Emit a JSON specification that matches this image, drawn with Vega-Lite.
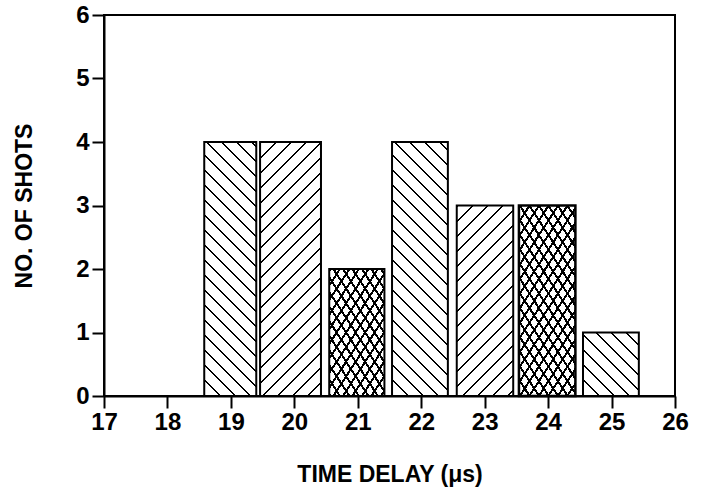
{
"$schema":"https://vega.github.io/schema/vega-lite/v6.json",
"width":571,"height":381,
"autosize":{"type":"none"},
"padding":{"left":104,"top":15,"right":30,"bottom":91},
"background":"white",
"config":{"view":{"stroke":"black","strokeWidth":2}},
"data":{"values":[
{"time":19,"start":18.58,"end":19.40,"shots":4},
{"time":20,"start":19.46,"end":20.42,"shots":4},
{"time":21,"start":20.55,"end":21.42,"shots":2},
{"time":22,"start":21.54,"end":22.42,"shots":4},
{"time":23,"start":22.56,"end":23.45,"shots":3},
{"time":24,"start":23.54,"end":24.43,"shots":3},
{"time":25,"start":24.55,"end":25.43,"shots":1}
]},
"encoding":{
"x":{"field":"start","type":"quantitative","scale":{"domain":[17,26],"nice":false},
"axis":{"title":"TIME DELAY (μs)","values":[17,18,19,20,21,22,23,24,25,26],"format":"d","grid":false,"domainColor":"black","domainWidth":2,"tickColor":"black","tickWidth":2,"tickSize":12,"labelFont":"Liberation Sans","labelFontSize":24,"labelFontWeight":"bold","labelColor":"black","labelPadding":2,"labelFlush":false,"labelOverlap":false,"titleFont":"Liberation Sans","titleFontSize":23,"titleFontWeight":"bold","titleColor":"black","titlePadding":29}},
"x2":{"field":"end"},
"y":{"field":"shots","type":"quantitative","scale":{"domain":[0,6],"nice":false},
"axis":{"title":"NO. OF SHOTS","values":[0,1,2,3,4,5,6],"format":"d","grid":false,"domainColor":"black","domainWidth":2,"tickColor":"black","tickWidth":2,"tickSize":12,"labelFont":"Liberation Sans","labelFontSize":24,"labelFontWeight":"bold","labelColor":"black","labelPadding":3,"labelFlush":false,"labelOverlap":false,"titleFont":"Liberation Sans","titleFontSize":23,"titleFontWeight":"bold","titleColor":"black","titlePadding":39}},
"y2":{"datum":0}
},
"layer":[
{"transform":[{"filter":"datum.time == 19"}],
"mark":{"type":"bar","stroke":"black","strokeWidth":2,"fill":{"gradient":"linear","x1":0,"y1":1,"x2":0.2437,"y2":-0.1903,"stops":[
{"offset":0,"color":"#fff"},{"offset":0,"color":"#000"},{"offset":0.0086,"color":"#000"},{"offset":0.0086,"color":"#fff"},
{"offset":0.0476,"color":"#fff"},{"offset":0.0476,"color":"#000"},{"offset":0.0562,"color":"#000"},{"offset":0.0562,"color":"#fff"},
{"offset":0.0952,"color":"#fff"},{"offset":0.0952,"color":"#000"},{"offset":0.1038,"color":"#000"},{"offset":0.1038,"color":"#fff"},
{"offset":0.1429,"color":"#fff"},{"offset":0.1429,"color":"#000"},{"offset":0.1514,"color":"#000"},{"offset":0.1514,"color":"#fff"},
{"offset":0.1905,"color":"#fff"},{"offset":0.1905,"color":"#000"},{"offset":0.199,"color":"#000"},{"offset":0.199,"color":"#fff"},
{"offset":0.2381,"color":"#fff"},{"offset":0.2381,"color":"#000"},{"offset":0.2467,"color":"#000"},{"offset":0.2467,"color":"#fff"},
{"offset":0.2857,"color":"#fff"},{"offset":0.2857,"color":"#000"},{"offset":0.2943,"color":"#000"},{"offset":0.2943,"color":"#fff"},
{"offset":0.3333,"color":"#fff"},{"offset":0.3333,"color":"#000"},{"offset":0.3419,"color":"#000"},{"offset":0.3419,"color":"#fff"},
{"offset":0.381,"color":"#fff"},{"offset":0.381,"color":"#000"},{"offset":0.3895,"color":"#000"},{"offset":0.3895,"color":"#fff"},
{"offset":0.4286,"color":"#fff"},{"offset":0.4286,"color":"#000"},{"offset":0.4371,"color":"#000"},{"offset":0.4371,"color":"#fff"},
{"offset":0.4762,"color":"#fff"},{"offset":0.4762,"color":"#000"},{"offset":0.4848,"color":"#000"},{"offset":0.4848,"color":"#fff"},
{"offset":0.5238,"color":"#fff"},{"offset":0.5238,"color":"#000"},{"offset":0.5324,"color":"#000"},{"offset":0.5324,"color":"#fff"},
{"offset":0.5714,"color":"#fff"},{"offset":0.5714,"color":"#000"},{"offset":0.58,"color":"#000"},{"offset":0.58,"color":"#fff"},
{"offset":0.619,"color":"#fff"},{"offset":0.619,"color":"#000"},{"offset":0.6276,"color":"#000"},{"offset":0.6276,"color":"#fff"},
{"offset":0.6667,"color":"#fff"},{"offset":0.6667,"color":"#000"},{"offset":0.6752,"color":"#000"},{"offset":0.6752,"color":"#fff"},
{"offset":0.7143,"color":"#fff"},{"offset":0.7143,"color":"#000"},{"offset":0.7229,"color":"#000"},{"offset":0.7229,"color":"#fff"},
{"offset":0.7619,"color":"#fff"},{"offset":0.7619,"color":"#000"},{"offset":0.7705,"color":"#000"},{"offset":0.7705,"color":"#fff"},
{"offset":0.8095,"color":"#fff"},{"offset":0.8095,"color":"#000"},{"offset":0.8181,"color":"#000"},{"offset":0.8181,"color":"#fff"},
{"offset":0.8571,"color":"#fff"},{"offset":0.8571,"color":"#000"},{"offset":0.8657,"color":"#000"},{"offset":0.8657,"color":"#fff"},
{"offset":0.9048,"color":"#fff"},{"offset":0.9048,"color":"#000"},{"offset":0.9133,"color":"#000"},{"offset":0.9133,"color":"#fff"},
{"offset":0.9524,"color":"#fff"},{"offset":0.9524,"color":"#000"},{"offset":0.961,"color":"#000"},{"offset":0.961,"color":"#fff"},
{"offset":1,"color":"#fff"}]}}},
{"transform":[{"filter":"datum.time == 20"}],
"mark":{"type":"bar","stroke":"black","strokeWidth":2,"fill":{"gradient":"linear","x1":0,"y1":0,"x2":0.2812,"y2":1.1727,"stops":[
{"offset":0,"color":"#fff"},{"offset":0,"color":"#000"},{"offset":0.0086,"color":"#000"},{"offset":0.0086,"color":"#fff"},
{"offset":0.0476,"color":"#fff"},{"offset":0.0476,"color":"#000"},{"offset":0.0562,"color":"#000"},{"offset":0.0562,"color":"#fff"},
{"offset":0.0952,"color":"#fff"},{"offset":0.0952,"color":"#000"},{"offset":0.1038,"color":"#000"},{"offset":0.1038,"color":"#fff"},
{"offset":0.1429,"color":"#fff"},{"offset":0.1429,"color":"#000"},{"offset":0.1514,"color":"#000"},{"offset":0.1514,"color":"#fff"},
{"offset":0.1905,"color":"#fff"},{"offset":0.1905,"color":"#000"},{"offset":0.199,"color":"#000"},{"offset":0.199,"color":"#fff"},
{"offset":0.2381,"color":"#fff"},{"offset":0.2381,"color":"#000"},{"offset":0.2467,"color":"#000"},{"offset":0.2467,"color":"#fff"},
{"offset":0.2857,"color":"#fff"},{"offset":0.2857,"color":"#000"},{"offset":0.2943,"color":"#000"},{"offset":0.2943,"color":"#fff"},
{"offset":0.3333,"color":"#fff"},{"offset":0.3333,"color":"#000"},{"offset":0.3419,"color":"#000"},{"offset":0.3419,"color":"#fff"},
{"offset":0.381,"color":"#fff"},{"offset":0.381,"color":"#000"},{"offset":0.3895,"color":"#000"},{"offset":0.3895,"color":"#fff"},
{"offset":0.4286,"color":"#fff"},{"offset":0.4286,"color":"#000"},{"offset":0.4371,"color":"#000"},{"offset":0.4371,"color":"#fff"},
{"offset":0.4762,"color":"#fff"},{"offset":0.4762,"color":"#000"},{"offset":0.4848,"color":"#000"},{"offset":0.4848,"color":"#fff"},
{"offset":0.5238,"color":"#fff"},{"offset":0.5238,"color":"#000"},{"offset":0.5324,"color":"#000"},{"offset":0.5324,"color":"#fff"},
{"offset":0.5714,"color":"#fff"},{"offset":0.5714,"color":"#000"},{"offset":0.58,"color":"#000"},{"offset":0.58,"color":"#fff"},
{"offset":0.619,"color":"#fff"},{"offset":0.619,"color":"#000"},{"offset":0.6276,"color":"#000"},{"offset":0.6276,"color":"#fff"},
{"offset":0.6667,"color":"#fff"},{"offset":0.6667,"color":"#000"},{"offset":0.6752,"color":"#000"},{"offset":0.6752,"color":"#fff"},
{"offset":0.7143,"color":"#fff"},{"offset":0.7143,"color":"#000"},{"offset":0.7229,"color":"#000"},{"offset":0.7229,"color":"#fff"},
{"offset":0.7619,"color":"#fff"},{"offset":0.7619,"color":"#000"},{"offset":0.7705,"color":"#000"},{"offset":0.7705,"color":"#fff"},
{"offset":0.8095,"color":"#fff"},{"offset":0.8095,"color":"#000"},{"offset":0.8181,"color":"#000"},{"offset":0.8181,"color":"#fff"},
{"offset":0.8571,"color":"#fff"},{"offset":0.8571,"color":"#000"},{"offset":0.8657,"color":"#000"},{"offset":0.8657,"color":"#fff"},
{"offset":0.9048,"color":"#fff"},{"offset":0.9048,"color":"#000"},{"offset":0.9133,"color":"#000"},{"offset":0.9133,"color":"#fff"},
{"offset":0.9524,"color":"#fff"},{"offset":0.9524,"color":"#000"},{"offset":0.961,"color":"#000"},{"offset":0.961,"color":"#fff"},
{"offset":1,"color":"#fff"}]}}},
{"transform":[{"filter":"datum.time == 21"}],
"mark":{"type":"bar","stroke":"black","strokeWidth":2,"fill":{"gradient":"linear","x1":0,"y1":1,"x2":0.7976,"y2":-0.1928,"stops":[
{"offset":0,"color":"#fff"},{"offset":0,"color":"#000"},{"offset":0.0167,"color":"#000"},{"offset":0.0167,"color":"#fff"},
{"offset":0.0667,"color":"#fff"},{"offset":0.0667,"color":"#000"},{"offset":0.0833,"color":"#000"},{"offset":0.0833,"color":"#fff"},
{"offset":0.1333,"color":"#fff"},{"offset":0.1333,"color":"#000"},{"offset":0.15,"color":"#000"},{"offset":0.15,"color":"#fff"},
{"offset":0.2,"color":"#fff"},{"offset":0.2,"color":"#000"},{"offset":0.2167,"color":"#000"},{"offset":0.2167,"color":"#fff"},
{"offset":0.2667,"color":"#fff"},{"offset":0.2667,"color":"#000"},{"offset":0.2833,"color":"#000"},{"offset":0.2833,"color":"#fff"},
{"offset":0.3333,"color":"#fff"},{"offset":0.3333,"color":"#000"},{"offset":0.35,"color":"#000"},{"offset":0.35,"color":"#fff"},
{"offset":0.4,"color":"#fff"},{"offset":0.4,"color":"#000"},{"offset":0.4167,"color":"#000"},{"offset":0.4167,"color":"#fff"},
{"offset":0.4667,"color":"#fff"},{"offset":0.4667,"color":"#000"},{"offset":0.4833,"color":"#000"},{"offset":0.4833,"color":"#fff"},
{"offset":0.5333,"color":"#fff"},{"offset":0.5333,"color":"#000"},{"offset":0.55,"color":"#000"},{"offset":0.55,"color":"#fff"},
{"offset":0.6,"color":"#fff"},{"offset":0.6,"color":"#000"},{"offset":0.6167,"color":"#000"},{"offset":0.6167,"color":"#fff"},
{"offset":0.6667,"color":"#fff"},{"offset":0.6667,"color":"#000"},{"offset":0.6833,"color":"#000"},{"offset":0.6833,"color":"#fff"},
{"offset":0.7333,"color":"#fff"},{"offset":0.7333,"color":"#000"},{"offset":0.75,"color":"#000"},{"offset":0.75,"color":"#fff"},
{"offset":0.8,"color":"#fff"},{"offset":0.8,"color":"#000"},{"offset":0.8167,"color":"#000"},{"offset":0.8167,"color":"#fff"},
{"offset":0.8667,"color":"#fff"},{"offset":0.8667,"color":"#000"},{"offset":0.8833,"color":"#000"},{"offset":0.8833,"color":"#fff"},
{"offset":0.9333,"color":"#fff"},{"offset":0.9333,"color":"#000"},{"offset":0.95,"color":"#000"},{"offset":0.95,"color":"#fff"},
{"offset":1,"color":"#fff"}]}}},
{"transform":[{"filter":"datum.time == 21"}],
"mark":{"type":"bar","strokeWidth":0,"fill":{"gradient":"linear","x1":0,"y1":0,"x2":0.7976,"y2":1.1928,"stops":[
{"offset":0,"color":"rgba(0,0,0,0)"},{"offset":0,"color":"#000"},{"offset":0.0167,"color":"#000"},{"offset":0.0167,"color":"rgba(0,0,0,0)"},
{"offset":0.0667,"color":"rgba(0,0,0,0)"},{"offset":0.0667,"color":"#000"},{"offset":0.0833,"color":"#000"},{"offset":0.0833,"color":"rgba(0,0,0,0)"},
{"offset":0.1333,"color":"rgba(0,0,0,0)"},{"offset":0.1333,"color":"#000"},{"offset":0.15,"color":"#000"},{"offset":0.15,"color":"rgba(0,0,0,0)"},
{"offset":0.2,"color":"rgba(0,0,0,0)"},{"offset":0.2,"color":"#000"},{"offset":0.2167,"color":"#000"},{"offset":0.2167,"color":"rgba(0,0,0,0)"},
{"offset":0.2667,"color":"rgba(0,0,0,0)"},{"offset":0.2667,"color":"#000"},{"offset":0.2833,"color":"#000"},{"offset":0.2833,"color":"rgba(0,0,0,0)"},
{"offset":0.3333,"color":"rgba(0,0,0,0)"},{"offset":0.3333,"color":"#000"},{"offset":0.35,"color":"#000"},{"offset":0.35,"color":"rgba(0,0,0,0)"},
{"offset":0.4,"color":"rgba(0,0,0,0)"},{"offset":0.4,"color":"#000"},{"offset":0.4167,"color":"#000"},{"offset":0.4167,"color":"rgba(0,0,0,0)"},
{"offset":0.4667,"color":"rgba(0,0,0,0)"},{"offset":0.4667,"color":"#000"},{"offset":0.4833,"color":"#000"},{"offset":0.4833,"color":"rgba(0,0,0,0)"},
{"offset":0.5333,"color":"rgba(0,0,0,0)"},{"offset":0.5333,"color":"#000"},{"offset":0.55,"color":"#000"},{"offset":0.55,"color":"rgba(0,0,0,0)"},
{"offset":0.6,"color":"rgba(0,0,0,0)"},{"offset":0.6,"color":"#000"},{"offset":0.6167,"color":"#000"},{"offset":0.6167,"color":"rgba(0,0,0,0)"},
{"offset":0.6667,"color":"rgba(0,0,0,0)"},{"offset":0.6667,"color":"#000"},{"offset":0.6833,"color":"#000"},{"offset":0.6833,"color":"rgba(0,0,0,0)"},
{"offset":0.7333,"color":"rgba(0,0,0,0)"},{"offset":0.7333,"color":"#000"},{"offset":0.75,"color":"#000"},{"offset":0.75,"color":"rgba(0,0,0,0)"},
{"offset":0.8,"color":"rgba(0,0,0,0)"},{"offset":0.8,"color":"#000"},{"offset":0.8167,"color":"#000"},{"offset":0.8167,"color":"rgba(0,0,0,0)"},
{"offset":0.8667,"color":"rgba(0,0,0,0)"},{"offset":0.8667,"color":"#000"},{"offset":0.8833,"color":"#000"},{"offset":0.8833,"color":"rgba(0,0,0,0)"},
{"offset":0.9333,"color":"rgba(0,0,0,0)"},{"offset":0.9333,"color":"#000"},{"offset":0.95,"color":"#000"},{"offset":0.95,"color":"rgba(0,0,0,0)"},
{"offset":1,"color":"rgba(0,0,0,0)"}]}}},
{"transform":[{"filter":"datum.time == 22"}],
"mark":{"type":"bar","stroke":"black","strokeWidth":2,"fill":{"gradient":"linear","x1":0,"y1":1,"x2":0.26,"y2":-0.183,"stops":[
{"offset":0,"color":"#fff"},{"offset":0,"color":"#000"},{"offset":0.0086,"color":"#000"},{"offset":0.0086,"color":"#fff"},
{"offset":0.0476,"color":"#fff"},{"offset":0.0476,"color":"#000"},{"offset":0.0562,"color":"#000"},{"offset":0.0562,"color":"#fff"},
{"offset":0.0952,"color":"#fff"},{"offset":0.0952,"color":"#000"},{"offset":0.1038,"color":"#000"},{"offset":0.1038,"color":"#fff"},
{"offset":0.1429,"color":"#fff"},{"offset":0.1429,"color":"#000"},{"offset":0.1514,"color":"#000"},{"offset":0.1514,"color":"#fff"},
{"offset":0.1905,"color":"#fff"},{"offset":0.1905,"color":"#000"},{"offset":0.199,"color":"#000"},{"offset":0.199,"color":"#fff"},
{"offset":0.2381,"color":"#fff"},{"offset":0.2381,"color":"#000"},{"offset":0.2467,"color":"#000"},{"offset":0.2467,"color":"#fff"},
{"offset":0.2857,"color":"#fff"},{"offset":0.2857,"color":"#000"},{"offset":0.2943,"color":"#000"},{"offset":0.2943,"color":"#fff"},
{"offset":0.3333,"color":"#fff"},{"offset":0.3333,"color":"#000"},{"offset":0.3419,"color":"#000"},{"offset":0.3419,"color":"#fff"},
{"offset":0.381,"color":"#fff"},{"offset":0.381,"color":"#000"},{"offset":0.3895,"color":"#000"},{"offset":0.3895,"color":"#fff"},
{"offset":0.4286,"color":"#fff"},{"offset":0.4286,"color":"#000"},{"offset":0.4371,"color":"#000"},{"offset":0.4371,"color":"#fff"},
{"offset":0.4762,"color":"#fff"},{"offset":0.4762,"color":"#000"},{"offset":0.4848,"color":"#000"},{"offset":0.4848,"color":"#fff"},
{"offset":0.5238,"color":"#fff"},{"offset":0.5238,"color":"#000"},{"offset":0.5324,"color":"#000"},{"offset":0.5324,"color":"#fff"},
{"offset":0.5714,"color":"#fff"},{"offset":0.5714,"color":"#000"},{"offset":0.58,"color":"#000"},{"offset":0.58,"color":"#fff"},
{"offset":0.619,"color":"#fff"},{"offset":0.619,"color":"#000"},{"offset":0.6276,"color":"#000"},{"offset":0.6276,"color":"#fff"},
{"offset":0.6667,"color":"#fff"},{"offset":0.6667,"color":"#000"},{"offset":0.6752,"color":"#000"},{"offset":0.6752,"color":"#fff"},
{"offset":0.7143,"color":"#fff"},{"offset":0.7143,"color":"#000"},{"offset":0.7229,"color":"#000"},{"offset":0.7229,"color":"#fff"},
{"offset":0.7619,"color":"#fff"},{"offset":0.7619,"color":"#000"},{"offset":0.7705,"color":"#000"},{"offset":0.7705,"color":"#fff"},
{"offset":0.8095,"color":"#fff"},{"offset":0.8095,"color":"#000"},{"offset":0.8181,"color":"#000"},{"offset":0.8181,"color":"#fff"},
{"offset":0.8571,"color":"#fff"},{"offset":0.8571,"color":"#000"},{"offset":0.8657,"color":"#000"},{"offset":0.8657,"color":"#fff"},
{"offset":0.9048,"color":"#fff"},{"offset":0.9048,"color":"#000"},{"offset":0.9133,"color":"#000"},{"offset":0.9133,"color":"#fff"},
{"offset":0.9524,"color":"#fff"},{"offset":0.9524,"color":"#000"},{"offset":0.961,"color":"#000"},{"offset":0.961,"color":"#fff"},
{"offset":1,"color":"#fff"}]}}},
{"transform":[{"filter":"datum.time == 23"}],
"mark":{"type":"bar","stroke":"black","strokeWidth":2,"fill":{"gradient":"linear","x1":0,"y1":0,"x2":0.3648,"y2":1.2305,"stops":[
{"offset":0,"color":"#fff"},{"offset":0,"color":"#000"},{"offset":0.0106,"color":"#000"},{"offset":0.0106,"color":"#fff"},
{"offset":0.0588,"color":"#fff"},{"offset":0.0588,"color":"#000"},{"offset":0.0694,"color":"#000"},{"offset":0.0694,"color":"#fff"},
{"offset":0.1176,"color":"#fff"},{"offset":0.1176,"color":"#000"},{"offset":0.1282,"color":"#000"},{"offset":0.1282,"color":"#fff"},
{"offset":0.1765,"color":"#fff"},{"offset":0.1765,"color":"#000"},{"offset":0.1871,"color":"#000"},{"offset":0.1871,"color":"#fff"},
{"offset":0.2353,"color":"#fff"},{"offset":0.2353,"color":"#000"},{"offset":0.2459,"color":"#000"},{"offset":0.2459,"color":"#fff"},
{"offset":0.2941,"color":"#fff"},{"offset":0.2941,"color":"#000"},{"offset":0.3047,"color":"#000"},{"offset":0.3047,"color":"#fff"},
{"offset":0.3529,"color":"#fff"},{"offset":0.3529,"color":"#000"},{"offset":0.3635,"color":"#000"},{"offset":0.3635,"color":"#fff"},
{"offset":0.4118,"color":"#fff"},{"offset":0.4118,"color":"#000"},{"offset":0.4224,"color":"#000"},{"offset":0.4224,"color":"#fff"},
{"offset":0.4706,"color":"#fff"},{"offset":0.4706,"color":"#000"},{"offset":0.4812,"color":"#000"},{"offset":0.4812,"color":"#fff"},
{"offset":0.5294,"color":"#fff"},{"offset":0.5294,"color":"#000"},{"offset":0.54,"color":"#000"},{"offset":0.54,"color":"#fff"},
{"offset":0.5882,"color":"#fff"},{"offset":0.5882,"color":"#000"},{"offset":0.5988,"color":"#000"},{"offset":0.5988,"color":"#fff"},
{"offset":0.6471,"color":"#fff"},{"offset":0.6471,"color":"#000"},{"offset":0.6576,"color":"#000"},{"offset":0.6576,"color":"#fff"},
{"offset":0.7059,"color":"#fff"},{"offset":0.7059,"color":"#000"},{"offset":0.7165,"color":"#000"},{"offset":0.7165,"color":"#fff"},
{"offset":0.7647,"color":"#fff"},{"offset":0.7647,"color":"#000"},{"offset":0.7753,"color":"#000"},{"offset":0.7753,"color":"#fff"},
{"offset":0.8235,"color":"#fff"},{"offset":0.8235,"color":"#000"},{"offset":0.8341,"color":"#000"},{"offset":0.8341,"color":"#fff"},
{"offset":0.8824,"color":"#fff"},{"offset":0.8824,"color":"#000"},{"offset":0.8929,"color":"#000"},{"offset":0.8929,"color":"#fff"},
{"offset":0.9412,"color":"#fff"},{"offset":0.9412,"color":"#000"},{"offset":0.9518,"color":"#000"},{"offset":0.9518,"color":"#fff"},
{"offset":1,"color":"#fff"}]}}},
{"transform":[{"filter":"datum.time == 24"}],
"mark":{"type":"bar","stroke":"black","strokeWidth":2.5,"fill":{"gradient":"linear","x1":0,"y1":1,"x2":0.5503,"y2":-0.2067,"stops":[
{"offset":0,"color":"#fff"},{"offset":0,"color":"#000"},{"offset":0.0132,"color":"#000"},{"offset":0.0132,"color":"#fff"},
{"offset":0.0526,"color":"#fff"},{"offset":0.0526,"color":"#000"},{"offset":0.0658,"color":"#000"},{"offset":0.0658,"color":"#fff"},
{"offset":0.1053,"color":"#fff"},{"offset":0.1053,"color":"#000"},{"offset":0.1184,"color":"#000"},{"offset":0.1184,"color":"#fff"},
{"offset":0.1579,"color":"#fff"},{"offset":0.1579,"color":"#000"},{"offset":0.1711,"color":"#000"},{"offset":0.1711,"color":"#fff"},
{"offset":0.2105,"color":"#fff"},{"offset":0.2105,"color":"#000"},{"offset":0.2237,"color":"#000"},{"offset":0.2237,"color":"#fff"},
{"offset":0.2632,"color":"#fff"},{"offset":0.2632,"color":"#000"},{"offset":0.2763,"color":"#000"},{"offset":0.2763,"color":"#fff"},
{"offset":0.3158,"color":"#fff"},{"offset":0.3158,"color":"#000"},{"offset":0.3289,"color":"#000"},{"offset":0.3289,"color":"#fff"},
{"offset":0.3684,"color":"#fff"},{"offset":0.3684,"color":"#000"},{"offset":0.3816,"color":"#000"},{"offset":0.3816,"color":"#fff"},
{"offset":0.4211,"color":"#fff"},{"offset":0.4211,"color":"#000"},{"offset":0.4342,"color":"#000"},{"offset":0.4342,"color":"#fff"},
{"offset":0.4737,"color":"#fff"},{"offset":0.4737,"color":"#000"},{"offset":0.4868,"color":"#000"},{"offset":0.4868,"color":"#fff"},
{"offset":0.5263,"color":"#fff"},{"offset":0.5263,"color":"#000"},{"offset":0.5395,"color":"#000"},{"offset":0.5395,"color":"#fff"},
{"offset":0.5789,"color":"#fff"},{"offset":0.5789,"color":"#000"},{"offset":0.5921,"color":"#000"},{"offset":0.5921,"color":"#fff"},
{"offset":0.6316,"color":"#fff"},{"offset":0.6316,"color":"#000"},{"offset":0.6447,"color":"#000"},{"offset":0.6447,"color":"#fff"},
{"offset":0.6842,"color":"#fff"},{"offset":0.6842,"color":"#000"},{"offset":0.6974,"color":"#000"},{"offset":0.6974,"color":"#fff"},
{"offset":0.7368,"color":"#fff"},{"offset":0.7368,"color":"#000"},{"offset":0.75,"color":"#000"},{"offset":0.75,"color":"#fff"},
{"offset":0.7895,"color":"#fff"},{"offset":0.7895,"color":"#000"},{"offset":0.8026,"color":"#000"},{"offset":0.8026,"color":"#fff"},
{"offset":0.8421,"color":"#fff"},{"offset":0.8421,"color":"#000"},{"offset":0.8553,"color":"#000"},{"offset":0.8553,"color":"#fff"},
{"offset":0.8947,"color":"#fff"},{"offset":0.8947,"color":"#000"},{"offset":0.9079,"color":"#000"},{"offset":0.9079,"color":"#fff"},
{"offset":0.9474,"color":"#fff"},{"offset":0.9474,"color":"#000"},{"offset":0.9605,"color":"#000"},{"offset":0.9605,"color":"#fff"},
{"offset":1,"color":"#fff"}]}}},
{"transform":[{"filter":"datum.time == 24"}],
"mark":{"type":"bar","strokeWidth":0,"fill":{"gradient":"linear","x1":0,"y1":0,"x2":0.5503,"y2":1.2067,"stops":[
{"offset":0,"color":"rgba(0,0,0,0)"},{"offset":0,"color":"#000"},{"offset":0.0132,"color":"#000"},{"offset":0.0132,"color":"rgba(0,0,0,0)"},
{"offset":0.0526,"color":"rgba(0,0,0,0)"},{"offset":0.0526,"color":"#000"},{"offset":0.0658,"color":"#000"},{"offset":0.0658,"color":"rgba(0,0,0,0)"},
{"offset":0.1053,"color":"rgba(0,0,0,0)"},{"offset":0.1053,"color":"#000"},{"offset":0.1184,"color":"#000"},{"offset":0.1184,"color":"rgba(0,0,0,0)"},
{"offset":0.1579,"color":"rgba(0,0,0,0)"},{"offset":0.1579,"color":"#000"},{"offset":0.1711,"color":"#000"},{"offset":0.1711,"color":"rgba(0,0,0,0)"},
{"offset":0.2105,"color":"rgba(0,0,0,0)"},{"offset":0.2105,"color":"#000"},{"offset":0.2237,"color":"#000"},{"offset":0.2237,"color":"rgba(0,0,0,0)"},
{"offset":0.2632,"color":"rgba(0,0,0,0)"},{"offset":0.2632,"color":"#000"},{"offset":0.2763,"color":"#000"},{"offset":0.2763,"color":"rgba(0,0,0,0)"},
{"offset":0.3158,"color":"rgba(0,0,0,0)"},{"offset":0.3158,"color":"#000"},{"offset":0.3289,"color":"#000"},{"offset":0.3289,"color":"rgba(0,0,0,0)"},
{"offset":0.3684,"color":"rgba(0,0,0,0)"},{"offset":0.3684,"color":"#000"},{"offset":0.3816,"color":"#000"},{"offset":0.3816,"color":"rgba(0,0,0,0)"},
{"offset":0.4211,"color":"rgba(0,0,0,0)"},{"offset":0.4211,"color":"#000"},{"offset":0.4342,"color":"#000"},{"offset":0.4342,"color":"rgba(0,0,0,0)"},
{"offset":0.4737,"color":"rgba(0,0,0,0)"},{"offset":0.4737,"color":"#000"},{"offset":0.4868,"color":"#000"},{"offset":0.4868,"color":"rgba(0,0,0,0)"},
{"offset":0.5263,"color":"rgba(0,0,0,0)"},{"offset":0.5263,"color":"#000"},{"offset":0.5395,"color":"#000"},{"offset":0.5395,"color":"rgba(0,0,0,0)"},
{"offset":0.5789,"color":"rgba(0,0,0,0)"},{"offset":0.5789,"color":"#000"},{"offset":0.5921,"color":"#000"},{"offset":0.5921,"color":"rgba(0,0,0,0)"},
{"offset":0.6316,"color":"rgba(0,0,0,0)"},{"offset":0.6316,"color":"#000"},{"offset":0.6447,"color":"#000"},{"offset":0.6447,"color":"rgba(0,0,0,0)"},
{"offset":0.6842,"color":"rgba(0,0,0,0)"},{"offset":0.6842,"color":"#000"},{"offset":0.6974,"color":"#000"},{"offset":0.6974,"color":"rgba(0,0,0,0)"},
{"offset":0.7368,"color":"rgba(0,0,0,0)"},{"offset":0.7368,"color":"#000"},{"offset":0.75,"color":"#000"},{"offset":0.75,"color":"rgba(0,0,0,0)"},
{"offset":0.7895,"color":"rgba(0,0,0,0)"},{"offset":0.7895,"color":"#000"},{"offset":0.8026,"color":"#000"},{"offset":0.8026,"color":"rgba(0,0,0,0)"},
{"offset":0.8421,"color":"rgba(0,0,0,0)"},{"offset":0.8421,"color":"#000"},{"offset":0.8553,"color":"#000"},{"offset":0.8553,"color":"rgba(0,0,0,0)"},
{"offset":0.8947,"color":"rgba(0,0,0,0)"},{"offset":0.8947,"color":"#000"},{"offset":0.9079,"color":"#000"},{"offset":0.9079,"color":"rgba(0,0,0,0)"},
{"offset":0.9474,"color":"rgba(0,0,0,0)"},{"offset":0.9474,"color":"#000"},{"offset":0.9605,"color":"#000"},{"offset":0.9605,"color":"rgba(0,0,0,0)"},
{"offset":1,"color":"rgba(0,0,0,0)"}]}}},
{"transform":[{"filter":"datum.time == 25"}],
"mark":{"type":"bar","stroke":"black","strokeWidth":2,"fill":{"gradient":"linear","x1":0,"y1":1,"x2":0.9371,"y2":-0.0659,"stops":[
{"offset":0,"color":"#fff"},{"offset":0,"color":"#000"},{"offset":0.0225,"color":"#000"},{"offset":0.0225,"color":"#fff"},
{"offset":0.125,"color":"#fff"},{"offset":0.125,"color":"#000"},{"offset":0.1475,"color":"#000"},{"offset":0.1475,"color":"#fff"},
{"offset":0.25,"color":"#fff"},{"offset":0.25,"color":"#000"},{"offset":0.2725,"color":"#000"},{"offset":0.2725,"color":"#fff"},
{"offset":0.375,"color":"#fff"},{"offset":0.375,"color":"#000"},{"offset":0.3975,"color":"#000"},{"offset":0.3975,"color":"#fff"},
{"offset":0.5,"color":"#fff"},{"offset":0.5,"color":"#000"},{"offset":0.5225,"color":"#000"},{"offset":0.5225,"color":"#fff"},
{"offset":0.625,"color":"#fff"},{"offset":0.625,"color":"#000"},{"offset":0.6475,"color":"#000"},{"offset":0.6475,"color":"#fff"},
{"offset":0.75,"color":"#fff"},{"offset":0.75,"color":"#000"},{"offset":0.7725,"color":"#000"},{"offset":0.7725,"color":"#fff"},
{"offset":0.875,"color":"#fff"},{"offset":0.875,"color":"#000"},{"offset":0.8975,"color":"#000"},{"offset":0.8975,"color":"#fff"},
{"offset":1,"color":"#fff"}]}}}
]
}
